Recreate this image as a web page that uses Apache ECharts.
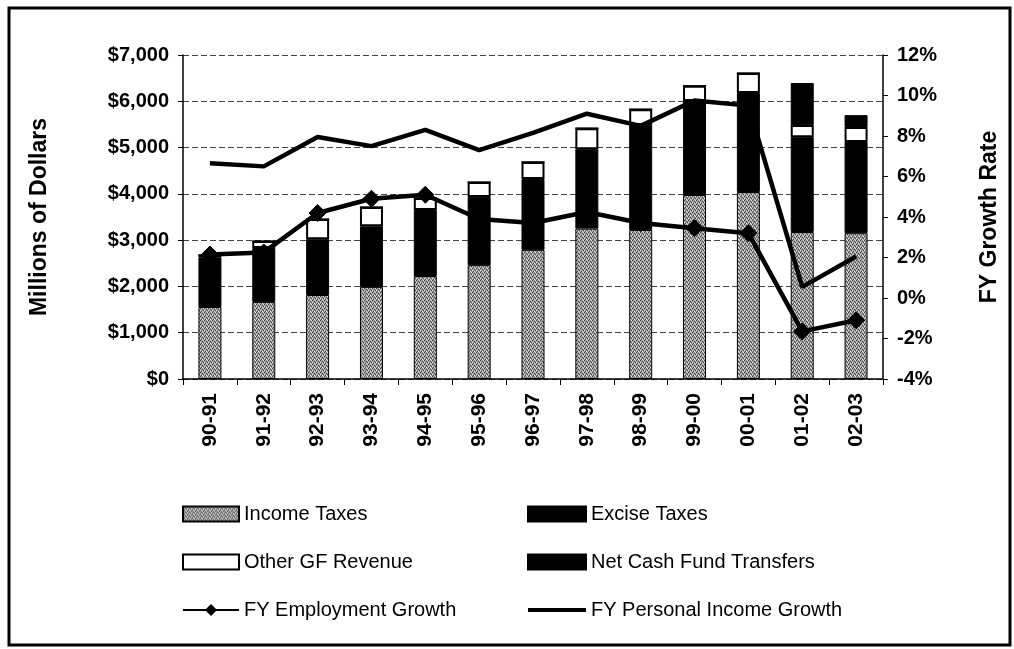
<!DOCTYPE html>
<html>
<head>
<meta charset="utf-8">
<script src="https://cdn.jsdelivr.net/npm/echarts@6/dist/echarts.min.js"></script>
<style>
  html, body { margin: 0; padding: 0; background: #fff; }
  #charts { width: 1014px; height: 649px; }
</style>
</head>
<body>
<div id="charts"></div>
<script>
// fiscal years on the x axis
var categories = ['90-91','91-92','92-93','93-94','94-95','95-96','96-97','97-98','98-99','99-00','00-01','01-02','02-03'];

// stacked revenue pieces, millions of dollars
var incomeTaxes    = [1555, 1665, 1815, 1990, 2225, 2460, 2790, 3250, 3220, 3975, 4040, 3175, 3150];
var exciseTaxes    = [1075, 1165, 1205, 1310, 1425, 1470, 1530, 1715, 2265, 2030, 2140, 2050, 1970];
var otherGFRevenue = [  50,  150,  435,  415,  260,  325,  370,  455,  345,  330,  430,  260,  325];
var netCashFund    = [   0,    0,    0,    0,    0,    0,    0,    0,    0,    0,    0,  910,  255];

// growth rates, percent
var employmentGrowth     = [2.15, 2.25, 4.2, 4.9, 5.1, 3.9, 3.7, 4.25, 3.7, 3.45, 3.2, -1.65, -1.1];
var personalIncomeGrowth = [6.65, 6.5, 7.95, 7.5, 8.3, 7.3, 8.15, 9.1, 8.5, 9.75, 9.5, 0.55, 2.05];

// gray speckle for the income tax bars
function speckle() {
  var c = document.createElement('canvas');
  c.width = 4; c.height = 4;
  var g = c.getContext('2d');
  g.fillStyle = '#9c9c9c';
  g.fillRect(0, 0, 4, 4);
  g.fillStyle = '#4a4a4a';
  [[0,0],[2,1],[1,3],[3,2]].forEach(function(p){ g.fillRect(p[0], p[1], 1, 1); });
  g.fillStyle = '#e0e0e0';
  [[2,3],[0,2],[3,0]].forEach(function(p){ g.fillRect(p[0], p[1], 1, 1); });
  return { image: c, repeat: 'repeat' };
}
var grayFill = speckle();

var font = 'Arial, "Liberation Sans", sans-serif';
var plainLine = 'path://M0,0 L58,0 L58,4 L0,4 Z';

var option = {
  animation: false,
  backgroundColor: '#fff',
  textStyle: { fontFamily: font },
  grid: { left: 183, right: 131, top: 55, bottom: 270, containLabel: false },
  legend: [
    {
      orient: 'vertical', left: 177, top: 499, itemWidth: 56, itemHeight: 15, itemGap: 28,
      textStyle: { fontSize: 20, color: '#000', fontFamily: font },
      data: [
        { name: 'Income Taxes', icon: 'rect' },
        { name: 'Other GF Revenue', icon: 'rect' },
        'FY Employment Growth'
      ]
    },
    {
      orient: 'vertical', left: 522, top: 499, itemWidth: 58, itemHeight: 15, itemGap: 28,
      textStyle: { fontSize: 20, color: '#000', fontFamily: font },
      data: [
        { name: 'Excise Taxes', icon: 'rect' },
        { name: 'Net Cash Fund Transfers', icon: 'rect' },
        { name: 'FY Personal Income Growth', icon: plainLine }
      ]
    }
  ],
  xAxis: {
    type: 'category',
    data: categories,
    axisLine: { lineStyle: { color: '#000', width: 1.5 } },
    axisTick: { show: true, length: 6, lineStyle: { color: '#000' } },
    axisLabel: { rotate: 90, margin: 14, color: '#000', fontSize: 21, fontWeight: 'bold', fontFamily: font }
  },
  yAxis: [
    {
      type: 'value', min: 0, max: 7000, interval: 1000,
      name: 'Millions of Dollars', nameLocation: 'middle', nameRotate: 90, nameGap: 132,
      nameTextStyle: { fontSize: 23, fontWeight: 'bold', color: '#000', fontFamily: font },
      axisLine: { show: true, lineStyle: { color: '#000', width: 1.5 } },
      axisTick: { show: true, length: 5, lineStyle: { color: '#000' } },
      axisLabel: {
        margin: 14, color: '#000', fontSize: 20, fontWeight: 'bold', fontFamily: font,
        formatter: function (v) { return '$' + v.toLocaleString('en-US'); }
      },
      splitLine: { show: true, lineStyle: { color: '#444', width: 1, type: [6, 3] } }
    },
    {
      type: 'value', min: -4, max: 12, interval: 2, position: 'right',
      name: 'FY Growth Rate', nameLocation: 'middle', nameRotate: 90, nameGap: 95,
      nameTextStyle: { fontSize: 23, fontWeight: 'bold', color: '#000', fontFamily: font },
      axisLine: { show: true, lineStyle: { color: '#000', width: 1.5 } },
      axisTick: { show: true, length: 5, lineStyle: { color: '#000' } },
      axisLabel: { margin: 14, color: '#000', fontSize: 20, fontWeight: 'bold', fontFamily: font, formatter: '{value}%' },
      splitLine: { show: false }
    }
  ],
  series: [
    {
      name: 'Income Taxes', type: 'bar', stack: 'gf', barWidth: 23, data: incomeTaxes,
      itemStyle: { color: grayFill, borderColor: '#000', borderWidth: 1 }
    },
    {
      name: 'Excise Taxes', type: 'bar', stack: 'gf', data: exciseTaxes,
      itemStyle: { color: '#000', borderColor: '#000', borderWidth: 1 }
    },
    {
      name: 'Other GF Revenue', type: 'bar', stack: 'gf', data: otherGFRevenue,
      itemStyle: { color: '#fff', borderColor: '#000', borderWidth: 2 }
    },
    {
      name: 'Net Cash Fund Transfers', type: 'bar', stack: 'gf', data: netCashFund,
      itemStyle: { color: '#000', borderColor: '#000', borderWidth: 1 }
    },
    {
      name: 'FY Employment Growth', type: 'line', yAxisIndex: 1, data: employmentGrowth,
      symbol: 'diamond', symbolSize: 17, z: 5,
      lineStyle: { color: '#000', width: 4.5 },
      itemStyle: { color: '#000', borderColor: '#000' }
    },
    {
      name: 'FY Personal Income Growth', type: 'line', yAxisIndex: 1, data: personalIncomeGrowth,
      symbol: 'none', z: 5,
      lineStyle: { color: '#000', width: 4.5 },
      itemStyle: { color: '#000' }
    }
  ],
  graphic: [
    {
      type: 'rect', silent: true, z: -1,
      shape: { x: 9, y: 8, width: 1001, height: 637 },
      style: { fill: 'none', stroke: '#000', lineWidth: 3 }
    }
  ]
};

var myChart = echarts.init(document.getElementById('charts'));
myChart.setOption(option);
</script>
</body>
</html>
